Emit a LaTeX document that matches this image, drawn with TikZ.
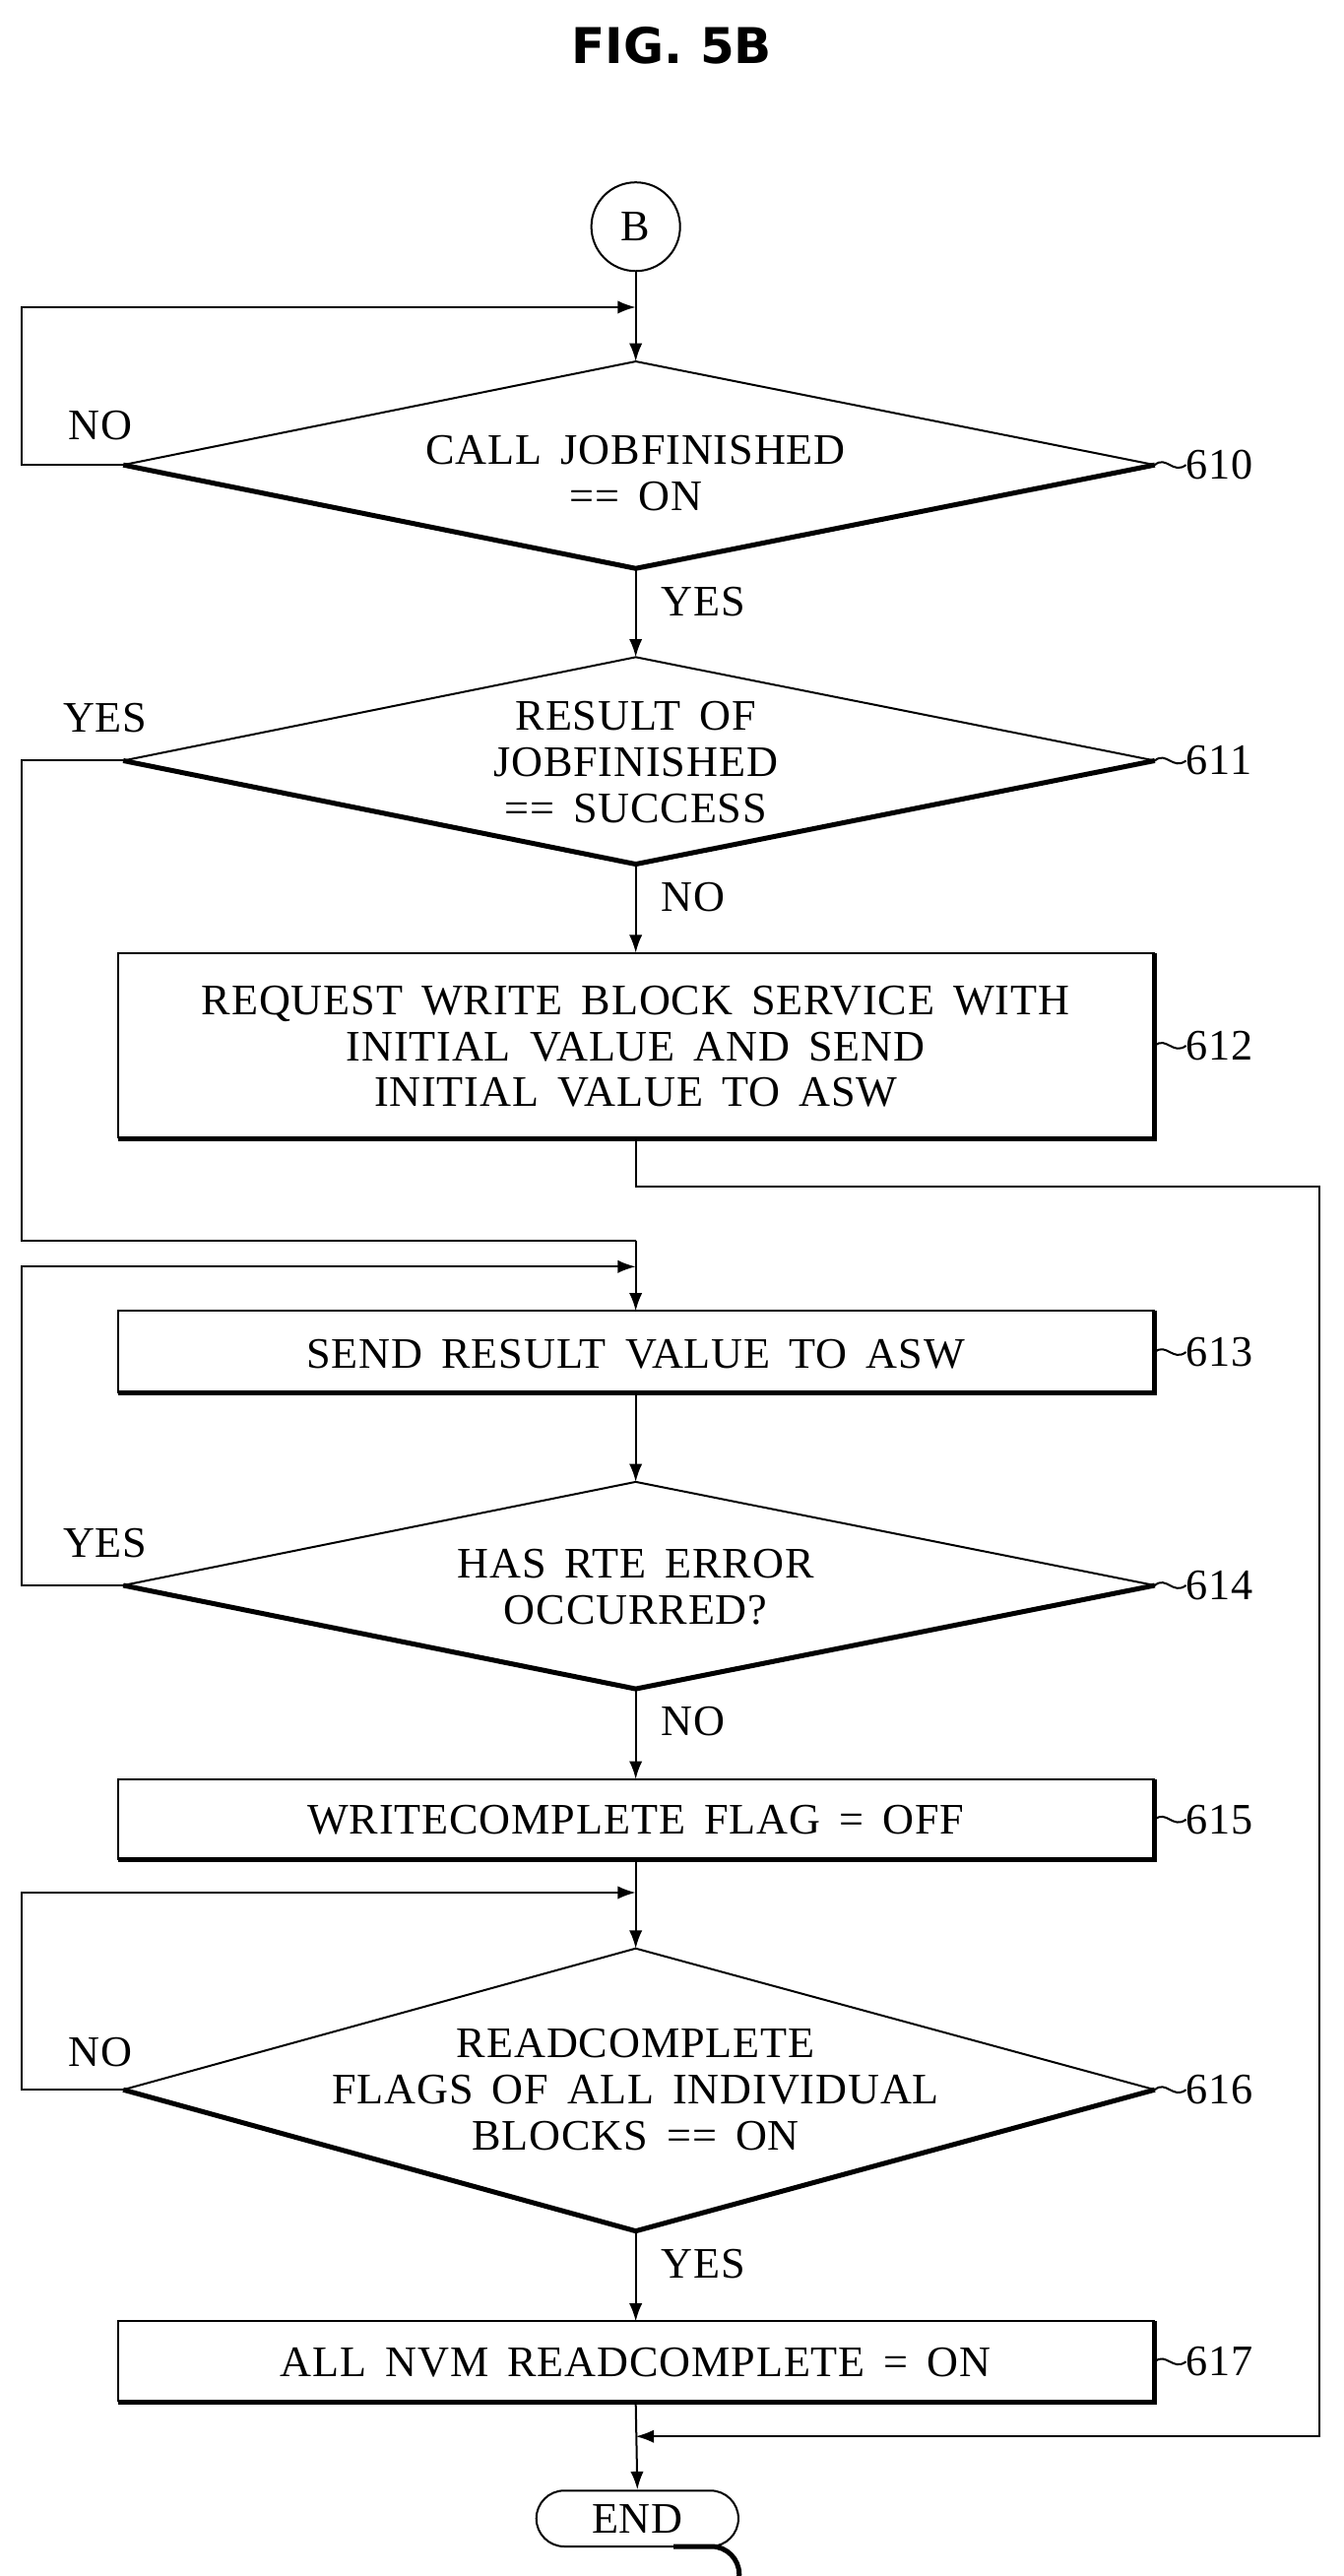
\documentclass[tikz,border=0pt]{standalone}
\usepackage{fontspec}
\setmainfont{Liberation Serif}[LetterSpace=2,WordSpace=1.6]
\newfontfamily\titlefont{DejaVu Sans}
\usetikzlibrary{arrows.meta}
\begin{document}
\begin{tikzpicture}[x=1pt,y=-1pt,
  txt/.style={font=\fontsize{26.5}{28}\selectfont, align=center, inner sep=0pt},
  lab/.style={font=\fontsize{26.5}{28}\selectfont, inner sep=0pt},
  ln/.style={line width=1.2pt},
  thick3/.style={line width=3pt},
  arr/.style={ln,-{Latex[length=11pt,width=8pt]}}]
\useasboundingbox (0,0) rectangle (818,1568);
\node[font=\titlefont\bfseries\fontsize{30}{34}\selectfont] (title) at (409,28) {FIG. 5B};
\node[draw,circle,ln,minimum size=54pt,txt] (B) at (387,138) {B};
\newcommand{\mydia}[4]{%
  \draw[ln] (75,#2) -- (387,#2-#3) -- (703,#2);
  \draw[thick3] (75,#2) -- (387,#2+#3) -- (703,#2);
  \draw[ln] (703,#2) .. controls (710,#2-6) and (714,#2+6) .. (722,#2);
  \node[lab,anchor=west] (#1) at (722,#2) {#4};}
\newcommand{\mybox}[4]{%
  \draw[ln] (72,#2) -- (72,#1) -- (703,#1);
  \draw[thick3] (72,#2) -- (703,#2) -- (703,#1);
  \draw[ln] (703,{(#1+#2)/2}) .. controls (710,{(#1+#2)/2-6}) and (714,{(#1+#2)/2+6}) .. (722,{(#1+#2)/2});
  \node[lab,anchor=west] (#3) at (722,{(#1+#2)/2}) {#4};}
\mydia{l610}{283}{63}{610}
\node[txt] (d610) at (387,288) {CALL JOBFINISHED\\== ON};
\mydia{l611}{463}{63}{611}
\node[txt] (d611) at (387,464) {RESULT OF\\JOBFINISHED\\== SUCCESS};
\mybox{580}{693}{l612}{612}
\node[txt] (b612) at (387,637) {REQUEST WRITE BLOCK SERVICE WITH\\INITIAL VALUE AND SEND\\INITIAL VALUE TO ASW};
\mybox{798}{848}{l613}{613}
\node[txt] (b613) at (387,824) {SEND RESULT VALUE TO ASW};
\mydia{l614}{965}{63}{614}
\node[txt] (d614) at (387,966) {HAS RTE ERROR\\OCCURRED?};
\mybox{1083}{1132}{l615}{615}
\node[txt] (b615) at (387,1108) {WRITECOMPLETE FLAG = OFF};
\mydia{l616}{1272}{86}{616}
\node[txt] (d616) at (387,1272) {READCOMPLETE\\FLAGS OF ALL INDIVIDUAL\\BLOCKS == ON};
\mybox{1413}{1462}{l617}{617}
\node[txt] (b617) at (387,1438) {ALL NVM READCOMPLETE = ON};
% END
\node[draw,ln,txt,minimum width=123pt,minimum height=34pt,rounded corners=17pt] (endn) at (388,1533) {END};
\draw[thick3] (410,1550) -- (433,1550) arc (-90:90:17);
% connectors
\coordinate (t610) at (387,220); \coordinate (bt610) at (387,346);
\coordinate (t611) at (387,400); \coordinate (bt611) at (387,526);
\coordinate (t614) at (387,902); \coordinate (bt614) at (387,1028);
\coordinate (t616) at (387,1186); \coordinate (bt616) at (387,1358);
\coordinate (L610) at (75,283); \coordinate (L611) at (75,463);
\coordinate (L614) at (75,965); \coordinate (L616) at (75,1272);
\draw[arr] (B) -- (t610);
\draw[arr] (L610) -- (13,283) -- (13,187) -- (387,187);
\draw[arr] (bt610) -- (t611);
\draw[arr] (bt611) -- (387,580);
\draw[ln] (L611) -- (13,463) -- (13,755) -- (387,755);
\draw[arr] (387,755) -- (387,798);
\draw[arr] (L614) -- (13,965) -- (13,771) -- (387,771);
\draw[arr] (387,848) -- (t614);
\draw[arr] (bt614) -- (387,1083);
\draw[arr] (387,1132) -- (t616);
\draw[arr] (L616) -- (13,1272) -- (13,1152) -- (387,1152);
\draw[arr] (bt616) -- (387,1413);
\draw[arr] (387,1462) -- (endn.north);
\draw[arr] (387,693) -- (387,722) -- (803,722) -- (803,1483) -- (387,1483);
\node[lab] (n1) at (61,259) {NO};
\node[lab] (y1) at (428,366) {YES};
\node[lab] (y2) at (64,437) {YES};
\node[lab] (n2) at (422,546) {NO};
\node[lab] (y3) at (64,939) {YES};
\node[lab] (n3) at (422,1048) {NO};
\node[lab] (n4) at (61,1249) {NO};
\node[lab] (y4) at (428,1378) {YES};
\end{tikzpicture}
\end{document}
